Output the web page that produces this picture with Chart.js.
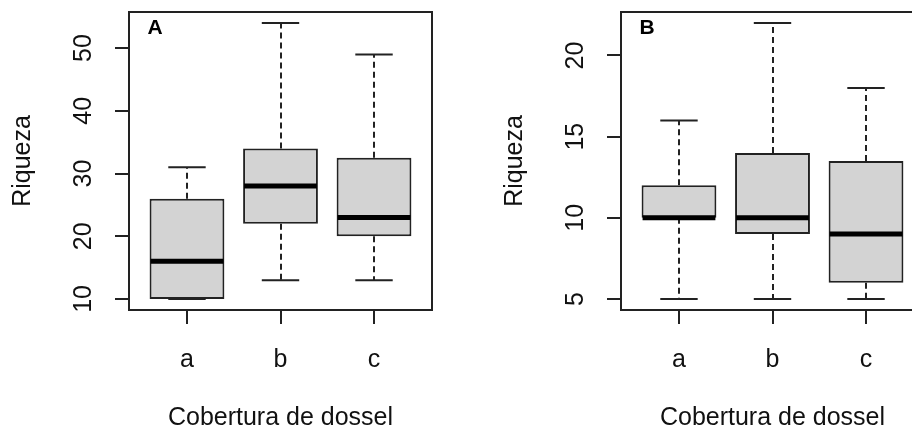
<!DOCTYPE html>
<html>
<head>
<meta charset="utf-8">
<script src="https://cdn.jsdelivr.net/npm/chart.js@4.4.0/dist/chart.umd.min.js"></script>
<style>
    body { margin: 0; width: 912px; height: 433px; overflow: hidden; background: #fff; position: relative; }
    .panel { position: absolute; top: 0; width: 456px; height: 433px; }
</style>
</head>
<body>
<div class="panel" style="left:0"><canvas id="chartA" width="456" height="433"></canvas></div>
<div class="panel" style="left:492px"><canvas id="chartB" width="456" height="433"></canvas></div>
<script>
const categories = ['a', 'b', 'c'];

// painel A
const a_min    = [10, 13, 13];
const a_q1     = [10, 22, 20];
const a_median = [16, 28, 23];
const a_q3     = [26, 34, 32.5];
const a_max    = [31, 54, 49];
const a_ticks  = [10, 20, 30, 40, 50];

// painel B
const b_min    = [5, 5, 5];
const b_q1     = [10, 9, 6];
const b_median = [10, 10, 9];
const b_q3     = [12, 14, 13.5];
const b_max    = [16, 22, 18];
const b_ticks  = [5, 10, 15, 20];

const FONT = '"Liberation Sans", Arial, sans-serif';

// whiskers, caps, median, frame and panel letter
const boxplotExtras = {
    id: 'boxplotExtras',
    afterDatasetsDraw(chart, args, opts) {
        const ctx = chart.ctx;
        const xs = chart.scales.x, ys = chart.scales.y;
        ctx.save();
        ctx.strokeStyle = '#222';
        ctx.lineCap = 'butt';
        opts.min.forEach((lo, i) => {
            const v = i + 1;
            const cx = Math.round(xs.getPixelForValue(v));
            const capL = xs.getPixelForValue(v - 0.2), capR = xs.getPixelForValue(v + 0.2);
            const boxL = xs.getPixelForValue(v - 0.4), boxR = xs.getPixelForValue(v + 0.4);
            const pMin = ys.getPixelForValue(lo), pMax = ys.getPixelForValue(opts.max[i]);
            const pQ1 = ys.getPixelForValue(opts.q1[i]), pQ3 = ys.getPixelForValue(opts.q3[i]);
            ctx.lineWidth = 2;
            ctx.setLineDash([6, 4]);
            ctx.beginPath();
            ctx.moveTo(cx, pQ3); ctx.lineTo(cx, pMax);
            ctx.moveTo(cx, pQ1); ctx.lineTo(cx, pMin);
            ctx.stroke();
            ctx.setLineDash([]);
            ctx.beginPath();
            ctx.moveTo(capL, pMax); ctx.lineTo(capR, pMax);
            ctx.moveTo(capL, pMin); ctx.lineTo(capR, pMin);
            ctx.stroke();
            const pMed = ys.getPixelForValue(opts.median[i]);
            ctx.strokeStyle = '#000';
            ctx.lineWidth = 5;
            ctx.beginPath();
            ctx.moveTo(boxL + 1, pMed); ctx.lineTo(boxR - 1, pMed);
            ctx.stroke();
            ctx.strokeStyle = '#222';
        });
        ctx.restore();
    },
    afterDraw(chart, args, opts) {
        const ctx = chart.ctx;
        const a = chart.chartArea;
        ctx.save();
        ctx.strokeStyle = '#222';
        ctx.lineWidth = 2;
        ctx.strokeRect(a.left, a.top, a.right - a.left, a.bottom - a.top);
        ctx.fillStyle = '#000';
        ctx.font = 'bold 21px ' + FONT;
        ctx.textAlign = 'center';
        ctx.textBaseline = 'middle';
        ctx.fillText(opts.letter, a.left + 26, a.top + 16);
        ctx.restore();
    }
};

function rRange(lo, hi) {
    const pad = (hi - lo) * 0.04;
    return [lo - pad, hi + pad];
}

function createBoxplot(canvasId, letter, mins, q1, med, q3, maxs, yTicks) {
    const ctx = document.getElementById(canvasId).getContext('2d');
    const yr = rRange(Math.min(...mins), Math.max(...maxs));
    return new Chart(ctx, {
        type: 'bar',
        data: {
            datasets: [{
                data: categories.map((c, i) => ({ x: i + 1, y: [q1[i], q3[i]] })),
                backgroundColor: '#d3d3d3',
                borderColor: '#222',
                borderWidth: 2,
                borderSkipped: false,
                barPercentage: 0.8,
                categoryPercentage: 1
            }]
        },
        options: {
            responsive: false,
            devicePixelRatio: 1,
            animation: false,
            layout: { padding: { left: 0, top: 12, right: 24, bottom: 0 } },
            plugins: {
                legend: { display: false },
                tooltip: { enabled: false },
                boxplotExtras: { letter: letter, min: mins, q1: q1, median: med, q3: q3, max: maxs }
            },
            scales: {
                x: {
                    type: 'linear',
                    min: 0.38,
                    max: 3.62,
                    offset: false,
                    afterBuildTicks: s => { s.ticks = categories.map((c, i) => ({ value: i + 1 })); },
                    afterFit: s => { s.height = 123; s.paddingLeft = 0; s.paddingRight = 0; },
                    grid: { offset: false, drawOnChartArea: false, drawTicks: true, tickLength: 14, color: '#222', lineWidth: 2 },
                    border: { display: false },
                    ticks: {
                        padding: 21,
                        color: '#111',
                        font: { family: FONT, size: 25 },
                        maxRotation: 0,
                        autoSkip: false,
                        callback: v => categories[v - 1]
                    },
                    title: {
                        display: true,
                        text: 'Cobertura de dossel',
                        color: '#111',
                        font: { family: FONT, size: 25 },
                        padding: { top: 0, bottom: 0 }
                    }
                },
                y: {
                    type: 'linear',
                    min: yr[0],
                    max: yr[1],
                    afterBuildTicks: s => { s.ticks = yTicks.map(v => ({ value: v })); },
                    afterFit: s => { s.width = 129; s.paddingTop = 0; s.paddingBottom = 0; },
                    grid: { drawOnChartArea: false, drawTicks: true, tickLength: 14, color: '#222', lineWidth: 2 },
                    border: { display: false },
                    ticks: {
                        padding: 17,
                        color: '#111',
                        font: { family: FONT, size: 25 },
                        minRotation: 90,
                        maxRotation: 90,
                        crossAlign: 'center',
                        autoSkip: false
                    },
                    title: {
                        display: true,
                        text: 'Riqueza',
                        color: '#111',
                        font: { family: FONT, size: 25 },
                        padding: { top: 8, bottom: 0 }
                    }
                }
            }
        },
        plugins: [boxplotExtras]
    });
}

createBoxplot('chartA', 'A', a_min, a_q1, a_median, a_q3, a_max, a_ticks);
createBoxplot('chartB', 'B', b_min, b_q1, b_median, b_q3, b_max, b_ticks);
</script>
</body>
</html>
